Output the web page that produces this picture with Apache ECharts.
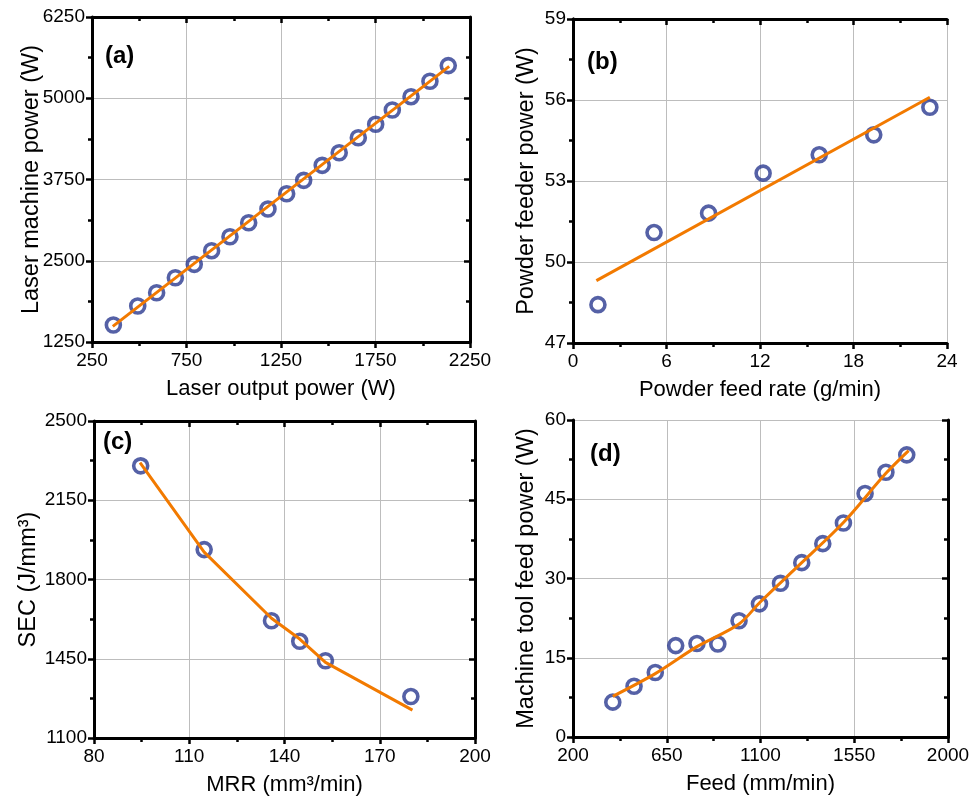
<!DOCTYPE html>
<html><head><meta charset="utf-8">
<script src="https://cdn.jsdelivr.net/npm/echarts@6/dist/echarts.min.js"></script>
<style>html,body{margin:0;padding:0;background:#fff}#c{width:980px;height:805px}</style>
</head><body><div id="c"></div>
<script>
// (a) Laser
const aX = [363,492,592,691,791,883,980,1079,1181,1280,1370,1468,1558,1659,1751,1839,1938,2038,2135];
const aY = [1511,1804,2008,2239,2445,2655,2870,3085,3296,3531,3737,3968,4162,4393,4599,4819,5024,5261,5502];
const aFitX = [360,2140];
const aFitY = [1490,5490];
// (b) Powder feeder
const bX = [1.6,5.2,8.7,12.2,15.8,19.3,22.9];
const bY = [48.42,51.09,51.81,53.29,53.97,54.71,55.73];
const bFitX = [1.5,22.9];
const bFitY = [49.31,56.1];
// (c) SEC vs MRR
const cX = [94.7,114.7,135.9,144.8,152.9,179.8];
const cY = [2302,1932,1618,1527,1441,1283];
const cFitX = [94.5,114.7,135.9,144.8,152.9,180.3];
const cFitY = [2316,1921,1629,1537,1434,1223];
// (d) Feed
const dX = [391,493,595,693,795,895,997,1095,1196,1298,1399,1498,1602,1702,1802];
const dY = [6.6,9.6,12.2,17.3,17.7,17.6,22.0,25.2,29.1,33.0,36.6,40.5,46.1,50.1,53.4];
const dFitX = [391,595,795,997,1100,1298,1498,1702,1811];
const dFitY = [7.7,12.0,17.1,21.4,25.6,33.0,40.6,49.9,54.2];

const panels = [
  {label:'(a)', xName:'Laser output power (W)', yName:'Laser machine power (W)',
   xr:[250,2250,500], yr:[1250,6250,1250], sx:aX, sy:aY, fx:aFitX, fy:aFitY, smooth:false,
   grid:{left:92, top:17, width:378, height:325}, yGap:48, lab:[105,55]},
  {label:'(b)', xName:'Powder feed rate (g/min)', yName:'Powder feeder power (W)',
   xr:[0,24,6], yr:[47,59,3], sx:bX, sy:bY, fx:bFitX, fy:bFitY, smooth:false,
   grid:{left:573, top:19, width:374, height:324}, yGap:34, lab:[587,61]},
  {label:'(c)', xName:'MRR (mm³/min)', yName:'SEC (J/mm³)',
   xr:[80,200,30], yr:[1100,2500,350], sx:cX, sy:cY, fx:cFitX, fy:cFitY, smooth:false,
   grid:{left:94, top:421, width:381, height:317}, yGap:53, lab:[103,441]},
  {label:'(d)', xName:'Feed (mm/min)', yName:'Machine tool feed power (W)',
   xr:[200,2000,450], yr:[0,60,15], sx:dX, sy:dY, fx:dFitX, fy:dFitY, smooth:0.3,
   grid:{left:573, top:420, width:375, height:317}, yGap:34, lab:[590,453]}
];

const FONT = 'Liberation Sans, Arial, Helvetica, sans-serif';
const NAVY = '#2b3990';
const ORANGE = '#f27a00';
const grids = [], xAxes = [], yAxes = [], series = [], titles = [];
const axLine = {show:true, lineStyle:{color:'#000', width:3}};
function tick(inside){ return {show:true, inside:inside, length:6, lineStyle:{color:'#000', width:2.5}}; }
function minor(){ return {show:true, splitNumber:2, length:4, lineStyle:{color:'#000', width:2.5}}; }
const fmt = v => String(v);

panels.forEach((p, i) => {
  grids.push(Object.assign({containLabel:false}, p.grid));
  const xBase = {type:'value', gridIndex:i, min:p.xr[0], max:p.xr[1], interval:p.xr[2]};
  const yBase = {type:'value', gridIndex:i, min:p.yr[0], max:p.yr[1], interval:p.yr[2]};
  xAxes.push(Object.assign({}, xBase, {
    position:'bottom', axisLine:axLine, axisTick:tick(false), minorTick:minor(),
    axisLabel:{show:true, color:'#000', fontSize:19, fontFamily:FONT, margin:9, formatter:fmt},
    splitLine:{show:true, lineStyle:{color:'#bdbdbd', width:1}},
    name:p.xName, nameLocation:'middle', nameGap:36, nameMoveOverlap:false,
    nameTextStyle:{color:'#000', fontSize:22, fontFamily:FONT}
  }));
  xAxes.push(Object.assign({}, xBase, {
    position:'top', axisLine:axLine, axisTick:tick(true), minorTick:minor(),
    axisLabel:{show:false}, splitLine:{show:false}
  }));
  yAxes.push(Object.assign({}, yBase, {
    position:'left', axisLine:axLine, axisTick:tick(false), minorTick:minor(),
    axisLabel:{show:true, color:'#000', fontSize:19, fontFamily:FONT, margin:7, formatter:fmt},
    splitLine:{show:true, lineStyle:{color:'#bdbdbd', width:1}},
    name:p.yName, nameLocation:'middle', nameGap:p.yGap, nameRotate:90, nameMoveOverlap:false,
    nameTextStyle:{color:'#000', fontSize:23.5, fontFamily:FONT}
  }));
  yAxes.push(Object.assign({}, yBase, {
    position:'right', axisLine:axLine, axisTick:tick(true), minorTick:minor(),
    axisLabel:{show:false}, splitLine:{show:false}
  }));
  series.push({
    type:'scatter', xAxisIndex:2*i, yAxisIndex:2*i, symbol:'circle', symbolSize:14,
    itemStyle:{color:'rgba(255,255,255,0)', borderColor:NAVY, borderWidth:3.6},
    data:p.sx.map((v,k)=>[v,p.sy[k]]), z:3, silent:true
  });
  series.push({
    type:'line', xAxisIndex:2*i, yAxisIndex:2*i, showSymbol:false, smooth:p.smooth,
    lineStyle:{color:ORANGE, width:3}, data:p.fx.map((v,k)=>[v,p.fy[k]]), z:4, silent:true
  });
  titles.push({text:p.label, left:p.lab[0]-5, top:p.lab[1]-16,
    textStyle:{fontSize:24, fontWeight:'bold', color:'#000', fontFamily:FONT}});
});

const chart = echarts.init(document.getElementById('c'), null, {renderer:'canvas'});
chart.setOption({
  animation:false, backgroundColor:'#fff',
  title:titles, grid:grids, xAxis:xAxes, yAxis:yAxes, series:series
});
</script></body></html>
